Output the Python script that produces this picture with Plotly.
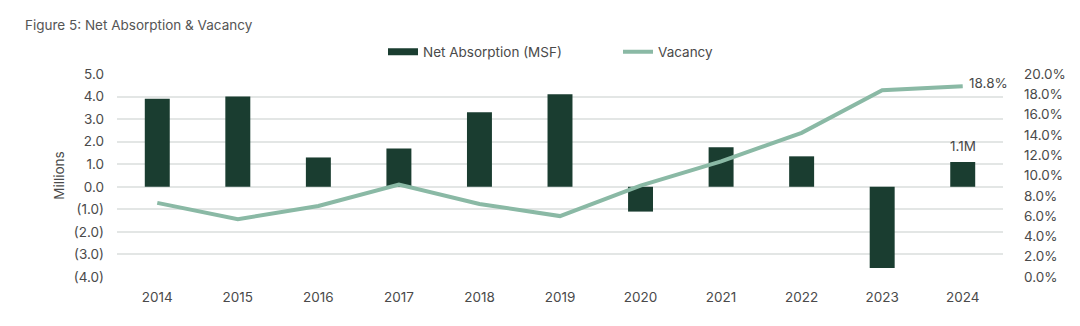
import plotly.graph_objects as go

years = ["2014", "2015", "2016", "2017", "2018", "2019", "2020", "2021", "2022", "2023", "2024"]
net_absorption = [3.9, 4.0, 1.3, 1.7, 3.3, 4.1, -1.1, 1.75, 1.35, -3.6, 1.1]
vacancy = [7.3, 5.7, 7.0, 9.1, 7.2, 6.0, 9.0, 11.4, 14.2, 18.4, 18.8]

left_ticks = [5, 4, 3, 2, 1, 0, -1, -2, -3, -4]
left_tick_text = [f"{v:.1f}" if v >= 0 else f"({abs(v):.1f})" for v in left_ticks]
right_ticks = [0, 2, 4, 6, 8, 10, 12, 14, 16, 18, 20]
right_tick_text = [f"{v:.1f}%" for v in right_ticks]

xpos = list(range(len(years)))

BAR = "#1a3d30"
LINE = "#8ab9a5"
TEXT = "#4a4a4a"
FONT = "Inter"
FS = 13.5

fig = go.Figure()
fig.add_trace(go.Bar(
    x=xpos, y=net_absorption, name="Net Absorption (MSF)", showlegend=False,
    marker=dict(color=BAR, line=dict(width=0)), width=0.31, yaxis="y",
))
# wide rectangular legend swatch for the bars
fig.add_trace(go.Scatter(
    x=[None], y=[None], name="Net Absorption (MSF)", mode="lines",
    line=dict(color=BAR, width=7), yaxis="y",
))
fig.add_trace(go.Scatter(
    x=xpos, y=vacancy, name="Vacancy", mode="lines",
    line=dict(color=LINE, width=4), yaxis="y2",
))

fig.add_annotation(x=xpos[-1], y=vacancy[-1], xref="x", yref="y2", text=f"{vacancy[-1]:.1f}%",
                   showarrow=False, xanchor="left", xshift=4, yshift=3,
                   font=dict(size=FS, color=TEXT, family=FONT))
fig.add_annotation(x=xpos[-1], y=net_absorption[-1], xref="x", yref="y", text=f"{net_absorption[-1]:.1f}M",
                   showarrow=False, yanchor="bottom", yshift=6,
                   font=dict(size=FS, color=TEXT, family=FONT))

fig.update_layout(
    width=1080, height=326,
    margin=dict(l=117, r=77, t=74, b=49, autoexpand=False),
    paper_bgcolor="white", plot_bgcolor="white",
    font=dict(family=FONT, size=FS, color=TEXT),
    title=dict(text="Figure 5: Net Absorption & Vacancy", x=25 / 1080, xanchor="left",
               xref="container", y=1 - 25 / 326, yanchor="middle", yref="container",
               font=dict(size=13.5, color="#555555", family=FONT)),
    legend=dict(orientation="h", x=383 / 1080, xanchor="left", xref="container",
                y=1 - 52 / 326, yanchor="middle", yref="container",
                font=dict(size=FS, color=TEXT), entrywidth=190, entrywidthmode="pixels",
                traceorder="normal", bgcolor="rgba(0,0,0,0)"),
    xaxis=dict(range=[-0.5, 10.5], tickvals=xpos, ticktext=years,
               showgrid=False, showline=False, zeroline=False, ticks="",
               ticklabelstandoff=10, tickfont=dict(size=FS, color=TEXT)),
    yaxis=dict(range=[-4, 5], tickvals=left_ticks, ticktext=left_tick_text,
               showgrid=True, gridcolor="#e3e6e5", gridwidth=1.5, zeroline=False,
               ticks="", ticklabelstandoff=12,
               title=dict(text="Millions", font=dict(size=FS, color=TEXT), standoff=6),
               tickfont=dict(size=FS, color=TEXT)),
    yaxis2=dict(range=[0, 20], tickvals=right_ticks, ticktext=right_tick_text,
                overlaying="y", side="right", showgrid=False, zeroline=False,
                ticks="", ticklabelstandoff=20,
                tickfont=dict(size=FS, color=TEXT)),
)

fig.write_html("out.html")
